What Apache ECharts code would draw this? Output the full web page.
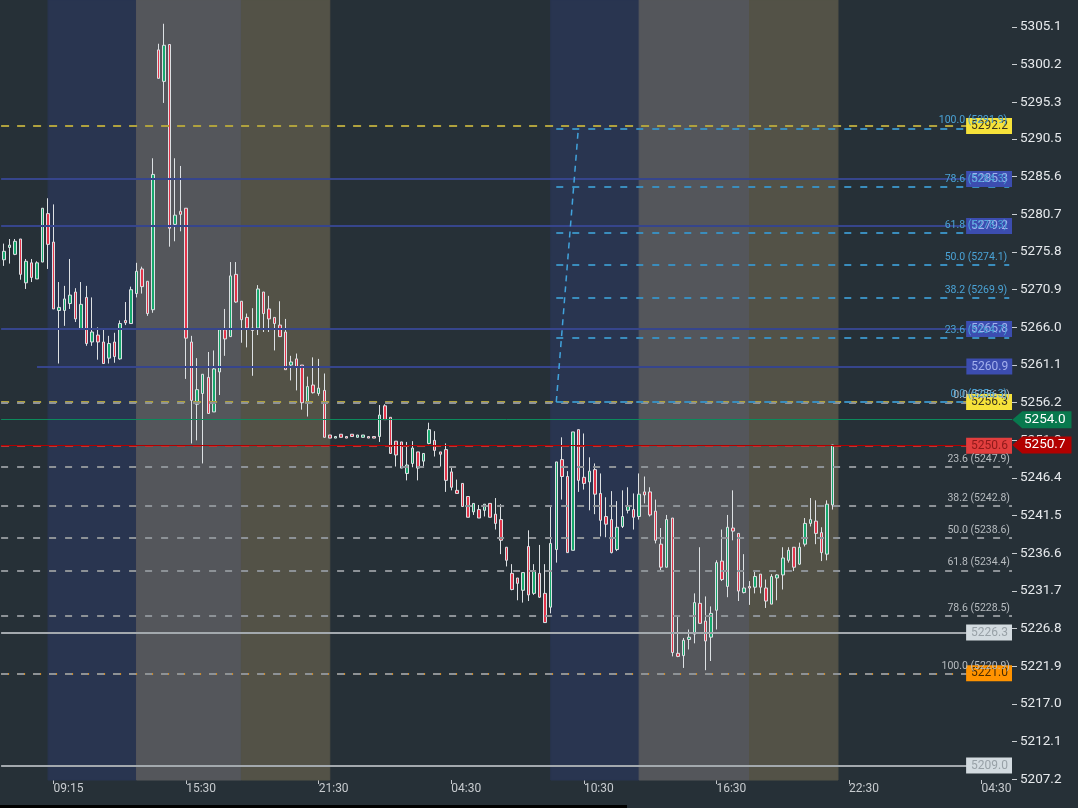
<!DOCTYPE html>
<html><head><meta charset="utf-8">
<script src="https://cdn.jsdelivr.net/npm/echarts@6/dist/echarts.min.js"></script>
<style>html,body{margin:0;padding:0;background:#263037;}#c{width:1078px;height:808px;}</style>
</head><body><div id="c"></div>
<script>
// ---- candle values (open / close / low / high) ----
const opens = [5274.8,5276.4,5275.5,5277.5,5271.8,5274.4,5272.3,5274.5,5280.8,5277.1,5268.2,5268.2,5269.1,5270.6,5265.8,5269.9,5264.1,5265.0,5264.1,5262.0,5264.1,5261.9,5266.9,5266.5,5270.4,5273.6,5272.0,5268.3,5302.1,5298.0,5302.8,5279.4,5281.1,5281.5,5264.1,5256.0,5257.4,5259.5,5255.0,5260.2,5265.7,5264.8,5272.9,5269.4,5267.3,5265.9,5265.9,5270.6,5268.4,5267.3,5266.3,5265.4,5261.1,5261.9,5261.1,5256.2,5258.5,5257.4,5257.8,5252.0,5251.6,5252.1,5251.8,5252.1,5251.7,5251.7,5251.8,5251.8,5251.8,5255.8,5254.3,5251.2,5251.1,5247.0,5248.3,5249.8,5248.6,5250.9,5251.3,5249.8,5250.1,5247.2,5244.8,5245.7,5244.0,5242.0,5242.3,5242.2,5243.1,5241.7,5241.0,5237.4,5234.0,5233.4,5231.8,5237.5,5231.4,5234.0,5231.4,5229.6,5237.1,5248.8,5246.6,5237.0,5252.7,5246.5,5245.9,5247.5,5244.4,5241.4,5241.0,5237.1,5240.1,5242.2,5242.3,5241.4,5244.6,5244.6,5242.1,5237.8,5234.8,5241.2,5223.6,5223.3,5225.4,5226.1,5230.1,5227.8,5225.7,5229.2,5235.6,5232.3,5239.9,5239.2,5231.5,5232.3,5232.2,5233.9,5232.1,5230.0,5233.4,5233.8,5235.7,5237.4,5235.2,5237.8,5240.5,5240.8,5239.3,5236.5,5242.9];
const closes = [5275.9,5276.7,5277.2,5272.9,5274.6,5272.5,5274.4,5281.5,5276.8,5268.4,5268.6,5269.7,5270.2,5267.1,5269.0,5263.9,5265.4,5264.1,5261.3,5263.9,5262.2,5266.5,5266.6,5270.9,5273.3,5271.3,5267.8,5285.9,5298.4,5302.7,5278.9,5280.6,5280.7,5264.6,5256.5,5257.9,5259.9,5254.8,5260.6,5265.7,5264.5,5272.7,5269.3,5267.0,5265.9,5265.6,5271.0,5267.8,5267.1,5266.5,5264.8,5260.5,5261.5,5260.9,5256.2,5258.3,5257.5,5258.1,5251.7,5251.6,5251.8,5251.7,5251.6,5251.8,5252.0,5252.0,5251.6,5251.6,5254.6,5254.0,5249.6,5249.4,5247.7,5248.1,5250.3,5247.7,5249.6,5252.7,5250.0,5249.5,5246.1,5245.2,5244.4,5242.7,5241.3,5243.1,5241.2,5243.0,5241.3,5240.5,5238.3,5235.7,5231.9,5232.7,5234.1,5231.2,5234.3,5230.9,5227.6,5237.9,5248.5,5246.6,5236.7,5252.4,5246.1,5245.7,5247.3,5244.3,5240.9,5240.4,5236.7,5240.0,5241.4,5242.7,5241.3,5244.3,5244.2,5241.6,5238.3,5234.8,5241.0,5223.7,5223.2,5225.3,5225.7,5230.2,5227.5,5225.2,5228.8,5235.4,5233.2,5240.0,5239.5,5231.7,5232.1,5232.1,5233.6,5232.2,5230.4,5233.6,5233.8,5236.0,5237.0,5234.8,5237.4,5240.5,5241.0,5239.2,5236.7,5243.0,5250.7];
const lows = [5274.0,5274.3,5275.4,5272.2,5271.0,5271.9,5272.3,5274.5,5273.6,5268.4,5261.3,5266.2,5268.4,5266.7,5265.8,5263.6,5263.6,5261.8,5261.3,5261.3,5261.4,5261.8,5266.3,5266.5,5269.9,5270.4,5267.5,5267.9,5298.4,5295.2,5276.5,5277.2,5278.5,5259.3,5250.9,5251.3,5248.3,5254.8,5255.0,5257.2,5262.3,5264.8,5269.2,5264.0,5263.4,5259.7,5265.0,5265.4,5265.4,5263.0,5264.8,5260.5,5259.1,5257.8,5255.3,5254.4,5257.4,5257.1,5251.7,5251.6,5251.6,5251.7,5251.6,5251.8,5251.7,5251.7,5251.6,5251.6,5251.1,5254.0,5249.6,5247.9,5247.7,5246.1,5247.8,5246.1,5247.9,5250.8,5249.2,5247.9,5244.6,5244.8,5244.4,5242.7,5241.3,5241.6,5241.2,5241.4,5241.3,5239.7,5236.5,5234.9,5231.8,5230.5,5230.2,5230.4,5231.2,5230.8,5227.6,5228.8,5235.4,5243.6,5236.7,5237.0,5244.6,5244.9,5242.2,5241.7,5238.8,5238.7,5236.6,5236.9,5239.9,5241.8,5239.7,5241.0,5243.1,5241.4,5237.9,5234.4,5234.8,5223.2,5223.1,5221.7,5224.1,5224.9,5227.5,5221.4,5222.6,5226.7,5233.0,5230.9,5238.3,5230.4,5231.4,5229.9,5231.4,5231.4,5229.5,5230.0,5230.5,5231.9,5235.4,5234.3,5235.1,5237.5,5240.1,5237.8,5235.6,5235.7,5242.3];
const highs = [5276.9,5277.5,5277.5,5277.5,5274.9,5274.9,5274.6,5281.5,5282.8,5282.0,5271.9,5271.4,5274.9,5271.1,5271.9,5271.4,5269.9,5266.0,5265.8,5264.9,5265.3,5266.9,5269.3,5271.3,5274.4,5273.9,5272.0,5288.0,5302.9,5305.5,5302.8,5288.0,5287.0,5281.5,5264.9,5262.0,5259.9,5262.8,5263.0,5265.7,5268.4,5274.5,5274.5,5269.4,5267.8,5268.5,5271.5,5270.6,5270.1,5267.3,5269.4,5267.1,5262.3,5262.6,5261.1,5259.6,5262.1,5261.9,5260.0,5252.0,5251.8,5252.1,5251.8,5252.1,5252.0,5252.0,5251.8,5251.8,5255.9,5256.0,5254.3,5251.2,5251.1,5251.1,5251.2,5249.8,5249.6,5253.6,5252.5,5249.8,5250.9,5247.8,5246.2,5245.7,5244.0,5243.1,5242.9,5243.0,5243.1,5243.8,5243.0,5237.4,5235.2,5233.4,5234.1,5239.6,5235.2,5237.7,5235.2,5242.7,5248.5,5251.7,5247.3,5252.4,5252.7,5252.2,5249.1,5248.3,5247.0,5243.9,5244.7,5243.4,5244.8,5245.2,5244.4,5247.0,5246.6,5245.2,5243.6,5239.9,5241.6,5241.2,5228.4,5225.6,5226.7,5231.4,5237.4,5231.0,5229.7,5235.7,5239.7,5241.6,5244.8,5239.2,5236.5,5233.0,5234.3,5233.9,5233.2,5233.9,5233.9,5237.4,5237.4,5237.4,5238.0,5241.2,5243.8,5243.5,5240.0,5243.5,5250.7];

// ---- axes ----
const slotCount = 183;
const tickIndex = [9, 33, 57, 81, 105, 129, 153, 177];
const tickLabels = ['09:15', '15:30', '21:30', '04:30', '10:30', '16:30', '22:30', '04:30'];
const priceTicks = [5207.2,5212.1,5217.0,5221.9,5226.8,5231.7,5236.6,5241.5,5246.4,5251.3,5256.2,5261.1,5266.0,5270.9,5275.8,5280.7,5285.6,5290.5,5295.3,5300.2,5305.1];
const priceMin = 5207.12, priceMax = 5308.59;

// ---- session bands (slot ranges) ----
const sessionStart = [8, 24, 43, 99, 115, 135];
const sessionEnd = [24, 43, 59, 115, 135, 151];
const sessionKind = ['asia', 'europe', 'us', 'asia', 'europe', 'us'];

// ---- levels ----
const fibRatios = ['100.0', '78.6', '61.8', '50.0', '38.2', '23.6', '0.0'];
const fibAPrices = [5291.9, 5284.3, 5278.3, 5274.1, 5269.9, 5264.7, 5256.3];
const fibAStart = 100, fibAPeak = 104;
const fibBPrices = [5220.9, 5228.5, 5234.4, 5238.6, 5242.8, 5247.9, 5256.2];
const yellowLevels = [5292.2, 5256.3];
const orangeLevel = 5221.0;
const blueLevels = [5285.3, 5279.2, 5265.8, 5260.9];
const blueStart = [0, 0, 0, 6];
const grayLevels = [5226.3, 5209.0];
const bidLevel = 5254.0;
const lastPrice = 5250.7;
const orderLevel = 5250.6;

// ---------------------------------------------------------------
const FONT = 'Roboto, "Noto Sans", sans-serif';
const xCats = Array.from({length: slotCount}, (_, i) => String(i));
const lastSlot = slotCount - 1;
const candleData = opens.map((o, i) => [o, closes[i], lows[i], highs[i]]);
const isTick = (i) => tickIndex.indexOf(i) >= 0;
const sessionColor = {asia: '#293550', europe: '#54565b', us: '#535247'};

function boxLabel(text, bg, fg, dist) {
  return {show: true, position: 'insideEnd', distance: dist || [0, 0], formatter: text,
    backgroundColor: bg, color: fg, fontSize: 12, fontFamily: FONT, padding: [2, 4, 1, 5], lineHeight: 13};
}
function tagLabel(text, bg) {
  return {show: true, position: 'end', distance: 10, formatter: text, backgroundColor: bg,
    color: '#ffffff', fontSize: 13.5, fontFamily: FONT, padding: [2, 6, 2, 2], lineHeight: 13};
}
function fibLabel(text, color) {
  return {show: true, position: 'insideEndTop', distance: [2, 2], formatter: text,
    color: color, fontSize: 10.5, fontFamily: FONT};
}

const priceLines = [];
blueLevels.forEach((v, k) => {
  const ls = {color: '#36458c', width: 2, type: 'solid'};
  if (blueStart[k] === 0) {
    priceLines.push({yAxis: v, lineStyle: ls, label: boxLabel(v.toFixed(1), '#3c4db0', '#a3b0ee')});
  } else {
    priceLines.push([{coord: [blueStart[k], v], lineStyle: ls, label: boxLabel(v.toFixed(1), '#3c4db0', '#a3b0ee', [-3, 0])},
                     {coord: [lastSlot, v]}]);
  }
});
grayLevels.forEach(v => priceLines.push({yAxis: v, lineStyle: {color: '#a3a9ae', width: 2, type: 'solid'},
  label: boxLabel(v.toFixed(1), '#d3dbe0', '#98a1a7')}));
yellowLevels.forEach(v => priceLines.push({yAxis: v, lineStyle: {color: '#b0a23e', width: 2, type: [8, 8]},
  label: boxLabel(v.toFixed(1), '#f6e23a', '#3b3520')}));
priceLines.push({yAxis: orangeLevel, lineStyle: {color: '#cf8a24', width: 2, type: [8, 8]},
  label: boxLabel(orangeLevel.toFixed(1), '#ff9300', '#4a2c00')});
priceLines.push({yAxis: orderLevel, lineStyle: {color: '#b53838', width: 2, type: [8, 8]},
  label: boxLabel(orderLevel.toFixed(1), '#e23e3e', '#8e1a1a')});
priceLines.push({yAxis: bidLevel, lineStyle: {color: '#0c8a5c', width: 1, type: 'solid'},
  label: tagLabel(bidLevel.toFixed(1), '#08794e')});
priceLines.push({yAxis: lastPrice, lineStyle: {color: '#b40000', width: 1, type: 'solid'},
  label: tagLabel(lastPrice.toFixed(1), '#b20000')});

const fibLines = [];
fibBPrices.forEach((p, k) => fibLines.push({yAxis: p, lineStyle: {color: '#8d9297', width: 2, type: [7, 9]},
  label: fibLabel(fibRatios[k] + ' (' + p.toFixed(1) + ')', '#b7bcc0')}));
fibAPrices.forEach((p, k) => fibLines.push([{coord: [fibAStart, p], lineStyle: {color: '#3a8dbd', width: 2, type: [7, 9]},
  label: fibLabel(fibRatios[k] + ' (' + p.toFixed(1) + ')', '#4aa3d6')}, {coord: [lastSlot, p]}]));
fibLines.push([{coord: [fibAStart, fibAPrices[6]], lineStyle: {color: '#41a3dc', width: 1.5, type: [6, 5]}, label: {show: false}},
               {coord: [fibAPeak, fibAPrices[0]]}]);

const bandAreas = sessionStart.map((s, k) => {
  const c = sessionColor[sessionKind[k]];
  return [{xAxis: s, itemStyle: {color: c, borderColor: c, borderWidth: 1}}, {xAxis: sessionEnd[k]}];
});

const option = {
  backgroundColor: '#263037',
  animation: false,
  grid: {left: 1.1, right: 66, top: 0, bottom: 28},
  xAxis: {
    type: 'category', data: xCats, boundaryGap: true,
    axisLine: {show: false},
    axisTick: {show: true, alignWithLabel: true, interval: (i) => isTick(i), length: 4, lineStyle: {color: '#c5c9cd'}},
    axisLabel: {interval: (i) => isTick(i), formatter: (v, i) => tickLabels[tickIndex.indexOf(i)] || '',
      align: 'left', color: '#c7cbcf', fontSize: 12, fontFamily: FONT, margin: 3},
    splitLine: {show: false}
  },
  yAxis: {
    type: 'value', position: 'right', min: priceMin, max: priceMax, scale: true,
    splitLine: {show: false}, axisLine: {show: false},
    axisTick: {show: true, length: 5, customValues: priceTicks, lineStyle: {color: '#c9cdd1'}},
    axisLabel: {customValues: priceTicks, formatter: (v) => v.toFixed(1), color: '#e6e9ec', fontSize: 13.5, fontFamily: FONT, margin: 8}
  },
  graphic: [{type: 'rect', shape: {x: 0, y: 805, width: 627, height: 3}, style: {fill: '#000000'}, z: 100}],
  series: [
    {type: 'line', data: [], z: 0, silent: true,
      markArea: {silent: true, data: bandAreas}},
    {type: 'line', data: [], z: 1, silent: true, clip: false,
      markLine: {silent: true, symbol: ['none', 'none'], data: priceLines, label: {show: false}}},
    {type: 'candlestick', data: candleData, z: 3, barWidth: 3,
      itemStyle: {color: '#16a86d', color0: '#e3344a', borderColor: '#dde1e4', borderColor0: '#dde1e4', borderColorDoji: '#dde1e4', borderWidth: 1}},
    {type: 'line', data: [], z: 4, silent: true, clip: false,
      markLine: {silent: true, symbol: ['none', 'none'], data: fibLines, label: {show: false}}},
    {type: 'line', data: [], z: 5, silent: true, clip: false,
      markPoint: {silent: true, symbol: 'path://M0,6 L6,0 L6,12 Z', symbolSize: [10, 17], symbolKeepAspect: false,
        symbolOffset: [8, 0], label: {show: false},
        data: [{coord: [lastSlot, bidLevel], itemStyle: {color: '#08794e'}},
               {coord: [lastSlot, lastPrice], itemStyle: {color: '#b20000'}}]}}
  ]
};
const chart = echarts.init(document.getElementById('c'));
chart.setOption(option);
</script>
</body></html>
